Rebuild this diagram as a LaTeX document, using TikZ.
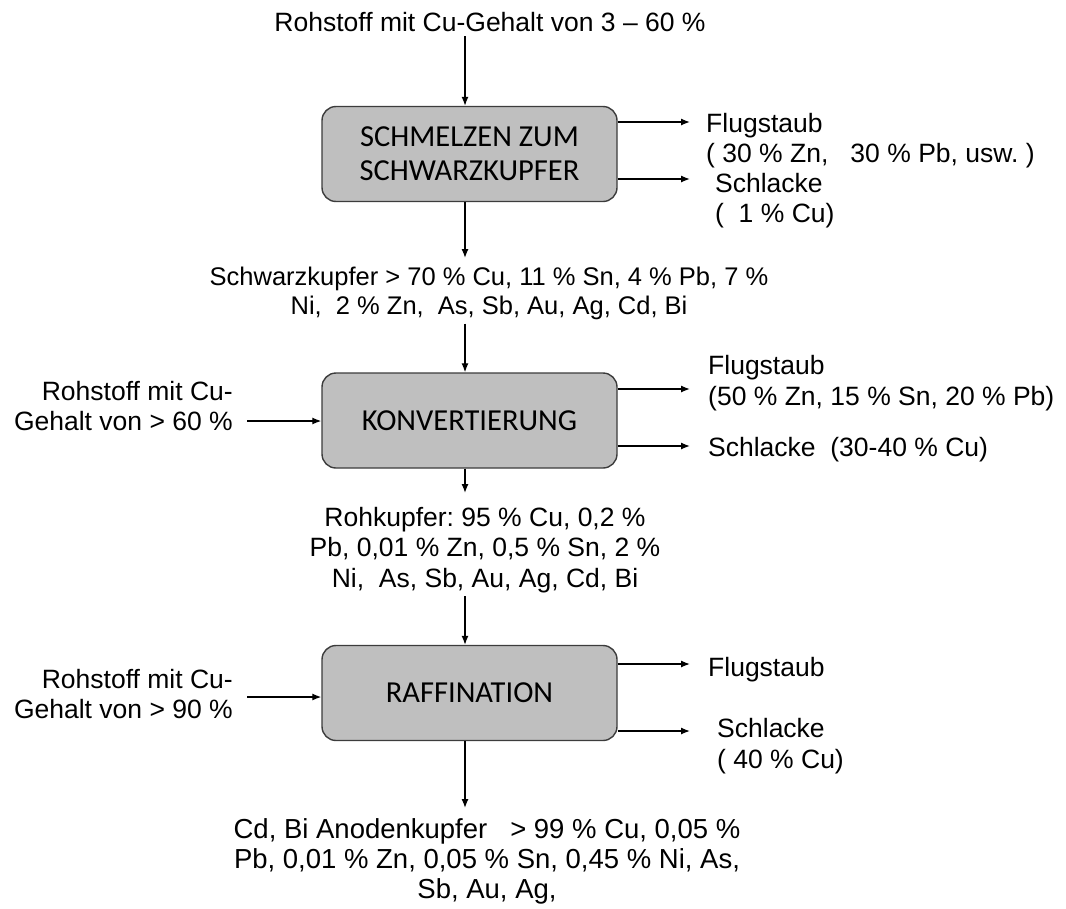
\documentclass[tikz,border=0pt]{standalone}
\usepackage{fontspec}
\setmainfont{Liberation Sans}
\newfontfamily\boxfont{Carlito}
\usetikzlibrary{arrows.meta}
\definecolor{boxfill}{RGB}{191,191,191}
\definecolor{boxline}{RGB}{60,60,60}
\tikzset{
  procbox/.style={draw=boxline, line width=1.4pt, fill=boxfill, rounded corners=14pt,
    minimum width=295pt, minimum height=95pt, inner sep=0pt, align=center,
    font=\boxfont\fontsize{30.5}{34}\selectfont},
  lbl/.style={inner sep=0pt, font=\fontsize{26.5}{30.5}\selectfont},
  arr/.style={line width=1.3pt, -{Latex[length=9pt,width=7pt]}}
}
\begin{document}
\frenchspacing
\begin{tikzpicture}[x=1pt,y=-1pt]
\useasboundingbox (0,0) rectangle (1066,908);
\coordinate (ax) at (465,0);
% boxes
\node[procbox] (box1) at (469.5,154) {SCHMELZEN ZUM\\SCHWARZKUPFER};
\node[procbox] (box2) at (469.5,420.5) {KONVERTIERUNG};
\node[procbox] (box3) at (469.5,693) {RAFFINATION};
% main texts
\node[lbl, anchor=north, align=center] (t0) at (490,12.5) {Rohstoff mit Cu-Gehalt von 3 -- 60 \%};
\node[lbl, anchor=north, align=center, font=\fontsize{25.5}{28.5}\selectfont] (t1) at (489,267) {Schwarzkupfer > 70 \% Cu, 11 \% Sn, 4 \% Pb, 7 \%\\Ni,\ \ 2 \% Zn,\ \ As, Sb, Au, Ag, Cd, Bi};
\node[lbl, anchor=north, align=center] (t2) at (485,507) {Rohkupfer: 95 \% Cu, 0,2 \%\\Pb, 0,01 \% Zn, 0,5 \% Sn, 2 \%\\Ni,\ \ As, Sb, Au, Ag, Cd, Bi};
\node[lbl, anchor=north, align=center, font=\fontsize{27.5}{30}\selectfont] (t3) at (487,818) {Cd, Bi Anodenkupfer\ \ \ > 99 \% Cu, 0,05 \%\\Pb, 0,01 \% Zn, 0,05 \% Sn, 0,45 \% Ni, As,\\Sb, Au, Ag,};
% left inputs
\node[lbl, anchor=north east, align=right] (in2) at (233,381) {Rohstoff mit Cu-\\Gehalt von > 60 \%};
\node[lbl, anchor=north east, align=right] (in3) at (233,669) {Rohstoff mit Cu-\\Gehalt von > 90 \%};
% right outputs
\node[lbl, anchor=north west, align=left] (f1) at (706,113) {Flugstaub\\(\ 30 \% Zn,\ \ \ 30 \% Pb, usw.\ )};
\node[lbl, anchor=north west, align=left] (s1) at (715,173) {Schlacke\\(\ \ 1 \% Cu)};
\node[lbl, anchor=north west, align=left] (f2) at (708,355.5) {Flugstaub\\(50 \% Zn, 15 \% Sn, 20 \% Pb)};
\node[lbl, anchor=north west, align=left] (s2) at (708,437) {Schlacke\ \ (30-40 \% Cu)};
\node[lbl, anchor=north west, align=left] (f3) at (708,657) {Flugstaub};
\node[lbl, anchor=north west, align=left] (s3) at (717,718.5) {Schlacke\\(\ 40 \% Cu)};
% arrow end coordinates
\coordinate (e1a) at (690,122);
\coordinate (e1b) at (690,179);
\coordinate (e2a) at (690,389);
\coordinate (e2b) at (690,446);
\coordinate (e3a) at (690,664);
\coordinate (e3b) at (690,731);
\coordinate (l2) at (247,421);
\coordinate (l3) at (247,697);
% vertical arrows
\draw[arr] ([yshift=-4pt]t0.south -| ax) -- (box1.north -| ax);
\draw[arr] (box1.south -| ax) -- ([yshift=9pt]t1.north -| ax);
\draw[arr] ([yshift=-4pt]t1.south -| ax) -- (box2.north -| ax);
\draw[arr] (box2.south -| ax) -- ([yshift=14pt]t2.north -| ax);
\draw[arr] ([yshift=-3pt]t2.south -| ax) -- (box3.north -| ax);
\draw[arr] (box3.south -| ax) -- ([yshift=10pt]t3.north -| ax);
% horizontal arrows
\draw[arr] (box1.east |- e1a) -- (e1a);
\draw[arr] (box1.east |- e1b) -- (e1b);
\draw[arr] (box2.east |- e2a) -- (e2a);
\draw[arr] (box2.east |- e2b) -- (e2b);
\draw[arr] (box3.east |- e3a) -- (e3a);
\draw[arr] (box3.east |- e3b) -- (e3b);
\draw[arr] (l2) -- (box2.west |- l2);
\draw[arr] (l3) -- (box3.west |- l3);
\end{tikzpicture}
\end{document}
